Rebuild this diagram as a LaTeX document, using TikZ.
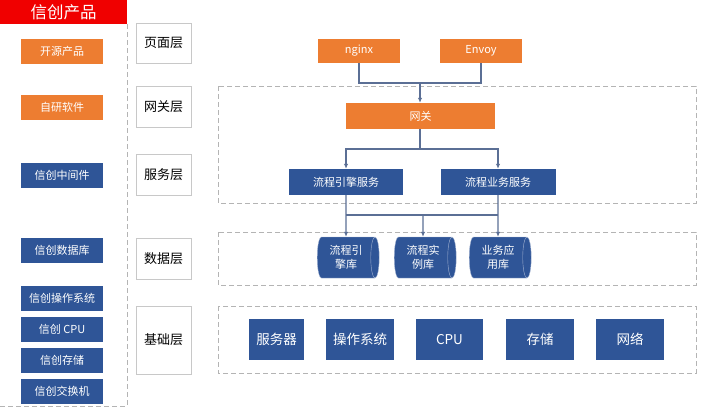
\documentclass[tikz,border=0pt]{standalone}
\usepackage{fontspec}
\setmainfont{Noto Sans CJK SC}
\usetikzlibrary{arrows.meta,positioning,shapes.geometric,shadows}
\definecolor{xcred}{HTML}{F00000}
\definecolor{xcorange}{HTML}{ED7D31}
\definecolor{xcblue}{HTML}{2F5597}
\definecolor{xcline}{HTML}{5B6F95}
\definecolor{xcdash}{HTML}{B4B4B4}
\definecolor{xcframe}{HTML}{C8C8C8}

\begin{document}
\begin{tikzpicture}[
  x=1pt,y=-1pt,
  >=Latex,
  every node/.style={font=\fontsize{11}{14}\selectfont,align=center,inner sep=2pt},
  header/.style={fill=xcred,text=white,minimum width=127pt,minimum height=24pt,font=\fontsize{16.5}{18}\selectfont},
  product/.style={fill=#1,text=white,minimum width=82pt,minimum height=25pt},
  layer/.style={draw=xcframe,fill=white,thick,minimum width=55pt,drop shadow={shadow xshift=1.2pt,shadow yshift=-1.2pt,opacity=0.18},font=\fontsize{13}{15}\selectfont},
  comp/.style={fill=#1,text=white,minimum height=25pt},
  store/.style={cylinder,aspect=0.35,fill=xcblue,draw=white!55!xcblue,thin,text=white,minimum width=41pt,minimum height=62pt,inner sep=0pt},
  infra/.style={fill=xcblue,text=white,minimum height=41pt,font=\fontsize{13.5}{15}\selectfont},
  region/.style={draw=xcdash,thick,dash pattern=on 5pt off 3pt},
  link/.style={xcline,line width=1.1pt},
  flow/.style={link,-{Latex[length=5pt,width=4.5pt]}}
]
  \useasboundingbox (0,0) rectangle (703,418);

  % Left column: product categories inside a dashed panel.
  \draw[region] (127,24) -- (127,406) -- (0,406);
  \node[header] (title) at (63.5,12) {信创产品};
  \node[product=xcorange] (oss) at (62,51.5) {开源产品};
  \node[product=xcorange] (selfdev) at (62,107) {自研软件};
  \node[product=xcblue] (mw) at (62,175.5) {信创中间件};
  \node[product=xcblue] (xcdb) at (62,250.5) {信创数据库};
  \node[product=xcblue] (xcos) at (62,298) {信创操作系统};
  \node[product=xcblue] (xccpu) at (62,329.5) {信创 CPU};
  \node[product=xcblue] (xcstore) at (62,360.5) {信创存储};
  \node[product=xcblue] (xcswitch) at (62,391) {信创交换机};

  % Layer labels.
  \node[layer,minimum height=40pt] (page) at (163.5,43) {页面层};
  \node[layer,minimum height=41pt] (gwlayer) at (163.5,106.5) {网关层};
  \node[layer,minimum height=41pt] (svclayer) at (163.5,174.5) {服务层};
  \node[layer,minimum height=41pt] (datalayer) at (163.5,258.5) {数据层};
  \node[layer,minimum height=68pt] (baselayer) at (163.5,340) {基础层};

  % Dashed regions on the right.
  \draw[region] (218,86) rectangle (696,203);
  \draw[region] (218,232) rectangle (696,285);
  \draw[region] (218,306) rectangle (696,373);

  % Entry, gateway and services.
  \node[comp=xcorange,minimum width=82pt,minimum height=24pt] (nginx) at (359,51) {nginx};
  \node[comp=xcorange,minimum width=82pt,minimum height=24pt] (envoy) at (481,51) {Envoy};
  \node[comp=xcorange,minimum width=149pt,minimum height=26pt] (gw) at (420.5,116) {网关};
  \node[comp=xcblue,minimum width=114pt,minimum height=26pt] (engine) at (346,182) {流程引擎服务};
  \node[comp=xcblue,minimum width=115pt,minimum height=26pt] (biz) at (498,182) {流程业务服务};

  % Databases.
  \node[store] (enginedb) at (346,257.5) {流程引\\擎库};
  \node[store] (instdb) at (423,257.5) {流程实\\例库};
  \node[store] (bizdb) at (498,257.5) {业务应\\用库};

  % Infrastructure.
  \node[infra,minimum width=55pt] (server) at (276.5,339.5) {服务器};
  \node[infra,minimum width=68pt] (opsys) at (360,339.5) {操作系统};
  \node[infra,minimum width=67pt] (cpu) at (449.5,339.5) {CPU};
  \node[infra,minimum width=68pt] (disk) at (540,339.5) {存储};
  \node[infra,minimum width=68pt] (net) at (630,339.5) {网络};

  % Connectors.
  \coordinate (gwjoin) at (420,83);
  \coordinate (svcjoin) at (420,149);
  \coordinate (dbjoin) at (423,215);
  \draw[link] (nginx.south) |- (gwjoin) -| (envoy.south);
  \draw[flow] (gwjoin) -- (gwjoin |- gw.north);
  \draw[link] (gw.south -| svcjoin) -- (svcjoin);
  \draw[flow] (svcjoin) -| (engine.north);
  \draw[flow] (svcjoin) -| (biz.north);
  \draw[flow] (engine.south) -- (enginedb.north);
  \draw[flow] (biz.south) -- (bizdb.north);
  \draw[link] (engine.south |- dbjoin) -- (biz.south |- dbjoin);
  \draw[flow] (dbjoin) -- (instdb.north);
\end{tikzpicture}
\end{document}
